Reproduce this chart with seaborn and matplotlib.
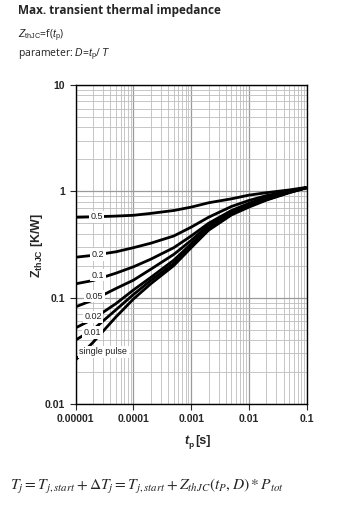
import numpy as np
import pandas as pd
import matplotlib
matplotlib.use("Agg")
import matplotlib.pyplot as plt
from matplotlib.ticker import LogLocator, FixedLocator, FixedFormatter, NullFormatter
import seaborn as sns

# ---- data ----
tp = [1e-5, 2e-5, 5e-5, 1e-4, 2e-4, 5e-4, 1e-3, 2e-3, 5e-3, 1e-2, 2e-2, 5e-2, 1e-1]
z_d05 = [0.57, 0.575, 0.585, 0.595, 0.62, 0.66, 0.71, 0.78, 0.85, 0.92, 0.97, 1.03, 1.09]
z_d02 = [0.24, 0.25, 0.27, 0.295, 0.325, 0.38, 0.46, 0.57, 0.72, 0.82, 0.91, 1.01, 1.08]
z_d01 = [0.135, 0.145, 0.17, 0.195, 0.23, 0.295, 0.38, 0.50, 0.66, 0.77, 0.88, 1.00, 1.08]
z_d005 = [0.082, 0.095, 0.122, 0.146, 0.185, 0.255, 0.345, 0.48, 0.64, 0.75, 0.86, 0.99, 1.08]
z_d002 = [0.052, 0.063, 0.088, 0.118, 0.155, 0.225, 0.32, 0.455, 0.62, 0.73, 0.845, 0.98, 1.08]
z_d001 = [0.040, 0.050, 0.077, 0.107, 0.145, 0.21, 0.305, 0.44, 0.61, 0.72, 0.835, 0.975, 1.08]
z_single = [0.026, 0.038, 0.066, 0.097, 0.135, 0.20, 0.295, 0.43, 0.60, 0.71, 0.825, 0.97, 1.08]

labels = ["0.5", "0.2", "0.1", "0.05", "0.02", "0.01", "single pulse"]
series = [z_d05, z_d02, z_d01, z_d005, z_d002, z_d001, z_single]
label_x = [2.3e-5, 2.4e-5, 2.4e-5, 2.1e-5, 2.0e-5, 1.95e-5, 3.0e-5]
label_y = [0.575, 0.255, 0.162, 0.103, 0.066, 0.047, 0.031]

xticks = [1e-5, 1e-4, 1e-3, 1e-2, 1e-1]
xticklabels = ["0.00001", "0.0001", "0.001", "0.01", "0.1"]
yticks = [0.01, 0.1, 1, 10]
yticklabels = ["0.01", "0.1", "1", "10"]

rows = []
for lab, zs in zip(labels, series):
    for t, z in zip(tp, zs):
        rows.append({"tp": t, "Z": z, "D": lab})
df = pd.DataFrame(rows)

sns.set_style("white")
plt.rcParams["font.family"] = ["Liberation Sans", "DejaVu Sans"]
plt.rcParams["mathtext.fontset"] = "custom"
plt.rcParams["mathtext.rm"] = "Liberation Sans"
plt.rcParams["mathtext.it"] = "Liberation Sans:italic"
plt.rcParams["mathtext.bf"] = "Liberation Sans:bold"

fig = plt.figure(figsize=(3.41, 5.12), dpi=100)
ax = fig.add_axes([0.222, 0.211, 0.677, 0.623])

ax.set_xscale("log")
ax.set_yscale("log")
ax.set_xlim(1e-5, 1e-1)
ax.set_ylim(0.01, 10)

# grid
ax.xaxis.set_major_locator(FixedLocator(xticks))
ax.yaxis.set_major_locator(FixedLocator(yticks))
ax.xaxis.set_minor_locator(LogLocator(base=10, subs=np.arange(2, 10)))
ax.yaxis.set_minor_locator(LogLocator(base=10, subs=np.arange(2, 10)))
ax.xaxis.set_minor_formatter(NullFormatter())
ax.yaxis.set_minor_formatter(NullFormatter())
ax.grid(True, which="major", color="#9a9a9a", lw=0.9)
ax.grid(True, which="minor", color="#bdbdbd", lw=0.6)
ax.set_axisbelow(True)

sns.lineplot(data=df, x="tp", y="Z", hue="D", hue_order=labels[::-1],
             palette=["black"] * len(labels), lw=2.0, legend=False, ax=ax,
             estimator=None, sort=True)
for ln in ax.get_lines():
    ln.set_solid_capstyle("butt")
    ln.set_solid_joinstyle("round")

for lab, lx, ly in zip(labels, label_x, label_y):
    ax.text(lx, ly, lab, fontsize=6.5, color="#222222", ha="center", va="center",
            bbox=dict(facecolor="white", edgecolor="none", pad=1.2), zorder=5)

ax.xaxis.set_major_formatter(FixedFormatter(xticklabels))
ax.yaxis.set_major_formatter(FixedFormatter(yticklabels))
ax.tick_params(axis="both", which="major", length=4, width=0.8, direction="out",
               labelsize=7.5, bottom=True, left=True)
ax.tick_params(axis="both", which="minor", length=0)
for t in ax.get_xticklabels() + ax.get_yticklabels():
    t.set_fontweight("bold")
for s in ax.spines.values():
    s.set_color("black")
    s.set_linewidth(1.0)
ax.set_xlabel("")
ax.set_ylabel("")

# axis titles
fig.text(0.553, 0.132, "t", fontsize=9, fontweight="bold", fontstyle="italic",
         ha="right", va="baseline")
fig.text(0.553, 0.127, "p", fontsize=6, fontweight="bold", ha="left", va="baseline")
fig.text(0.573, 0.132, "[s]", fontsize=9, fontweight="bold", ha="left", va="baseline")
fig.text(0.108, 0.52, r"Z$_{\mathbf{thJC}}$ [K/W]", fontsize=9, fontweight="bold",
         rotation=90, ha="center", va="center")

# header texts
fig.text(0.053, 0.992, "Max. transient thermal impedance", fontsize=8.5,
         fontweight="bold", ha="left", va="top", family=["Open Sans", "DejaVu Sans"])
fig.text(0.053, 0.947, r"$Z_{\mathrm{thJC}}$=f($t_{\mathrm{p}}$)", fontsize=7.5,
         ha="left", va="top", color="#222222", family=["Open Sans", "DejaVu Sans"])
fig.text(0.053, 0.909, r"parameter: $D$=$t_{\mathrm{p}}$/ $T$", fontsize=7.5,
         ha="left", va="top", color="#222222", family=["Open Sans", "DejaVu Sans"])

fig.text(0.03, 0.049,
         r"$T_j = T_{j,start} + \Delta T_j = T_{j,start} + Z_{thJC}\left(t_P, D\right) * P_{tot}$",
         fontsize=11.2, ha="left", va="center", math_fontfamily="stix")

fig.savefig("out.png", dpi=100, facecolor="white")
